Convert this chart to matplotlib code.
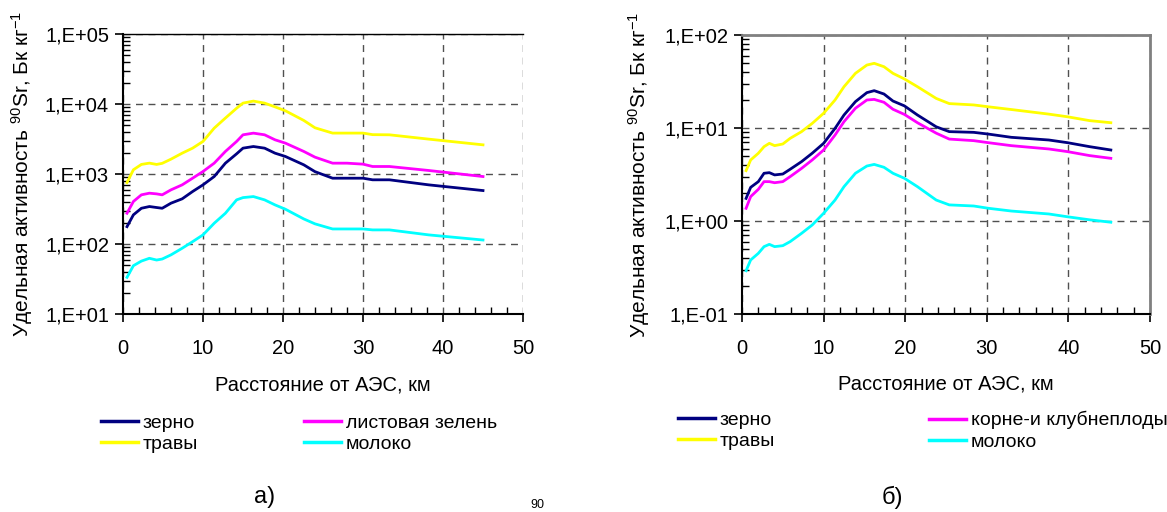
import matplotlib
matplotlib.use("Agg")
import matplotlib.pyplot as plt
from matplotlib.ticker import LogLocator, FixedLocator, MultipleLocator, NullFormatter
from matplotlib.lines import Line2D

plt.rcParams['font.family'] = ['Liberation Sans', 'DejaVu Sans']
plt.rcParams['mathtext.fontset'] = 'custom'
plt.rcParams['mathtext.rm'] = 'Liberation Sans'
plt.rcParams['mathtext.it'] = 'Liberation Sans'

# ---- Data: chart a) ----
x_a = [0.5, 1.3, 2.3, 3.3, 4.2, 4.9, 6.0, 7.4, 8.7, 10.0, 11.4, 12.8, 14.2, 15.0, 16.3,
       17.7, 19.0, 20.3, 22.6, 24.0, 26.2, 28.0, 30.0, 31.2, 33.3, 38.2, 45.0]
a_zerno = [177, 261, 324, 343, 332, 324, 383, 442, 562, 700, 920, 1428, 1942, 2340, 2470,
           2340, 1985, 1780, 1352, 1080, 871, 871, 871, 826, 826, 700, 580]
a_listov = [275, 405, 504, 532, 520, 504, 594, 700, 871, 1086, 1428, 2100, 2917, 3630, 3835,
            3630, 3080, 2760, 2100, 1740, 1428, 1428, 1383, 1280, 1280, 1123, 920]
a_travy = [755, 1150, 1370, 1430, 1370, 1420, 1630, 1985, 2340, 2920, 4520, 6300, 8700, 10300, 11000,
           10300, 9100, 8000, 5820, 4570, 3840, 3840, 3840, 3650, 3630, 3150, 2610]
a_moloko = [33.4, 49, 57, 62.5, 59, 61, 70, 87, 108, 135, 198, 275, 427, 460, 476,
            427, 362, 314, 228, 194, 164, 164, 164, 159, 159, 135, 114]

# ---- Data: chart б) ----
x_b = [0.5, 1.06, 2.0, 2.7, 3.35, 4.0, 5.0, 5.9, 7.3, 8.6, 10.0, 11.4, 12.5, 13.9, 15.3,
       16.2, 17.4, 18.5, 19.9, 21.5, 23.8, 25.4, 28.4, 30.2, 33.0, 37.6, 39.9, 42.6, 45.2]
b_zerno = [1.75, 2.3, 2.65, 3.26, 3.31, 3.13, 3.2, 3.6, 4.35, 5.35, 6.84, 9.9, 13.8, 19.2, 24,
           25.2, 23.2, 19.5, 17.3, 13.8, 10.3, 9.14, 8.98, 8.6, 7.94, 7.43, 6.95, 6.3, 5.8]
b_korne = [1.37, 1.83, 2.19, 2.65, 2.65, 2.58, 2.65, 3.0, 3.68, 4.53, 5.8, 8.4, 11.7, 16.3, 20,
           20.3, 18.9, 15.9, 14.0, 11.4, 8.8, 7.6, 7.31, 6.95, 6.46, 5.95, 5.57, 5.05, 4.72]
b_travy = [3.48, 4.53, 5.35, 6.3, 6.84, 6.46, 6.73, 7.74, 9.14, 11.2, 14.4, 20, 27.8, 38.7, 47.5,
           49.6, 45.6, 38.7, 33.7, 27.8, 20.8, 18.3, 17.7, 16.9, 15.8, 14.1, 13.2, 12.0, 11.4]
b_moloko = [0.292, 0.381, 0.449, 0.53, 0.561, 0.53, 0.543, 0.6, 0.737, 0.905, 1.21, 1.68, 2.34, 3.26, 3.9,
            4.06, 3.78, 3.26, 2.88, 2.34, 1.68, 1.49, 1.45, 1.37, 1.28, 1.19, 1.11, 1.03, 0.97]

a_yticks = [1e1, 1e2, 1e3, 1e4, 1e5]
a_ylabels = ['1,E+01', '1,E+02', '1,E+03', '1,E+04', '1,E+05']
b_yticks = [1e-1, 1e0, 1e1, 1e2]
b_ylabels = ['1,E-01', '1,E+00', '1,E+01', '1,E+02']
x_ticks = [0, 10, 20, 30, 40, 50]

labels_a = ['зерно', 'травы', 'листовая зелень', 'молоко']
labels_b = ['зерно', 'травы', 'корне-и клубнеплоды', 'молоко']
C_NAVY, C_MAG, C_YEL, C_CYAN = '#000080', '#FF00FF', '#FFFF00', '#00FFFF'

ylabel = 'Удельная активность $^{90}$Sr, Бк кг$^{-1}$'
xlabel = 'Расстояние от АЭС, км'

W, H = 1167, 512
fig = plt.figure(figsize=(W / 100, H / 100), dpi=100)

def px_rect(l, t, r, b):
    return [l / W, 1 - b / H, (r - l) / W, (b - t) / H]

ax_a = fig.add_axes(px_rect(123, 34, 523, 314))
ax_b = fig.add_axes(px_rect(742, 35, 1150, 314))

FS = 14.5

def style(ax, yticks, ylabels, ylim, lab_x):
    ax.set_yscale('log')
    ax.set_xlim(0, 50)
    ax.set_ylim(*ylim)
    ax.xaxis.set_major_locator(FixedLocator(x_ticks))
    ax.set_xticklabels([str(t) for t in x_ticks], fontsize=FS)
    ax.xaxis.set_minor_locator(MultipleLocator(2))
    ax.yaxis.set_major_locator(FixedLocator(yticks))
    ax.set_yticklabels(ylabels, fontsize=FS)
    ax.yaxis.set_minor_locator(LogLocator(base=10, subs=range(2, 10)))
    ax.yaxis.set_minor_formatter(NullFormatter())
    ax.tick_params(axis='both', which='major', direction='out', length=6, width=1.2, color='black', pad=4)
    ax.tick_params(axis='x', which='major', pad=12)
    ax.tick_params(axis='both', which='minor', direction='in', length=5, width=1.0, color='black')
    ax.grid(True, which='major', linestyle=(0, (5, 4)), color='#505050', linewidth=1.0)
    ax.spines['left'].set_linewidth(1.5)
    ax.spines['bottom'].set_linewidth(1.5)
    ax.set_ylabel(ylabel, fontsize=15)
    ax.yaxis.set_label_coords(lab_x, 0.5)
    ax.set_xlabel(xlabel, fontsize=FS)
    ax.xaxis.set_label_coords(0.5, -0.218)

style(ax_a, a_yticks, a_ylabels, (1e1, 1e5), (35 - 123) / 400)
style(ax_b, b_yticks, b_ylabels, (1e-1, 1e2), (652 - 742) / 408)

ax_a.spines['top'].set_linewidth(1.0)
ax_a.spines['right'].set_visible(False)
for s in ('top', 'right'):
    ax_b.spines[s].set_color('#808080')
    ax_b.spines[s].set_linewidth(2)

LW = 2.0
ax_a.plot(x_a, a_travy, color=C_YEL, lw=LW)
ax_a.plot(x_a, a_listov, color=C_MAG, lw=LW)
ax_a.plot(x_a, a_zerno, color=C_NAVY, lw=LW)
ax_a.plot(x_a, a_moloko, color=C_CYAN, lw=LW)

ax_b.plot(x_b, b_travy, color=C_YEL, lw=LW)
ax_b.plot(x_b, b_korne, color=C_MAG, lw=LW)
ax_b.plot(x_b, b_zerno, color=C_NAVY, lw=LW)
ax_b.plot(x_b, b_moloko, color=C_CYAN, lw=LW)

def add_leg(xpx, ypx, colors, labels):
    handles = [Line2D([], [], color=c, lw=2.5) for c in colors]
    leg = fig.legend(handles, labels, loc='upper left',
                     bbox_to_anchor=(xpx / W, 1 - ypx / H), frameon=False,
                     fontsize=14, handlelength=1.9, handletextpad=0.25,
                     borderpad=0, borderaxespad=0, labelspacing=0.2)
    return leg

add_leg(101, 414, [C_NAVY, C_YEL], labels_a[:2])
add_leg(304, 414, [C_MAG, C_CYAN], labels_a[2:])
add_leg(678, 411, [C_NAVY, C_YEL], labels_b[:2])
add_leg(929, 411, [C_MAG, C_CYAN], labels_b[2:])

fig.text(265 / W, 1 - 497 / H, 'а)', fontsize=17, ha='center', va='center')
fig.text(892 / W, 1 - 497 / H, 'б)', fontsize=17, ha='center', va='center')
fig.text(537 / W, 1 - 505 / H, '90', fontsize=9, ha='center', va='center')

fig.savefig('out.png', dpi=100)
